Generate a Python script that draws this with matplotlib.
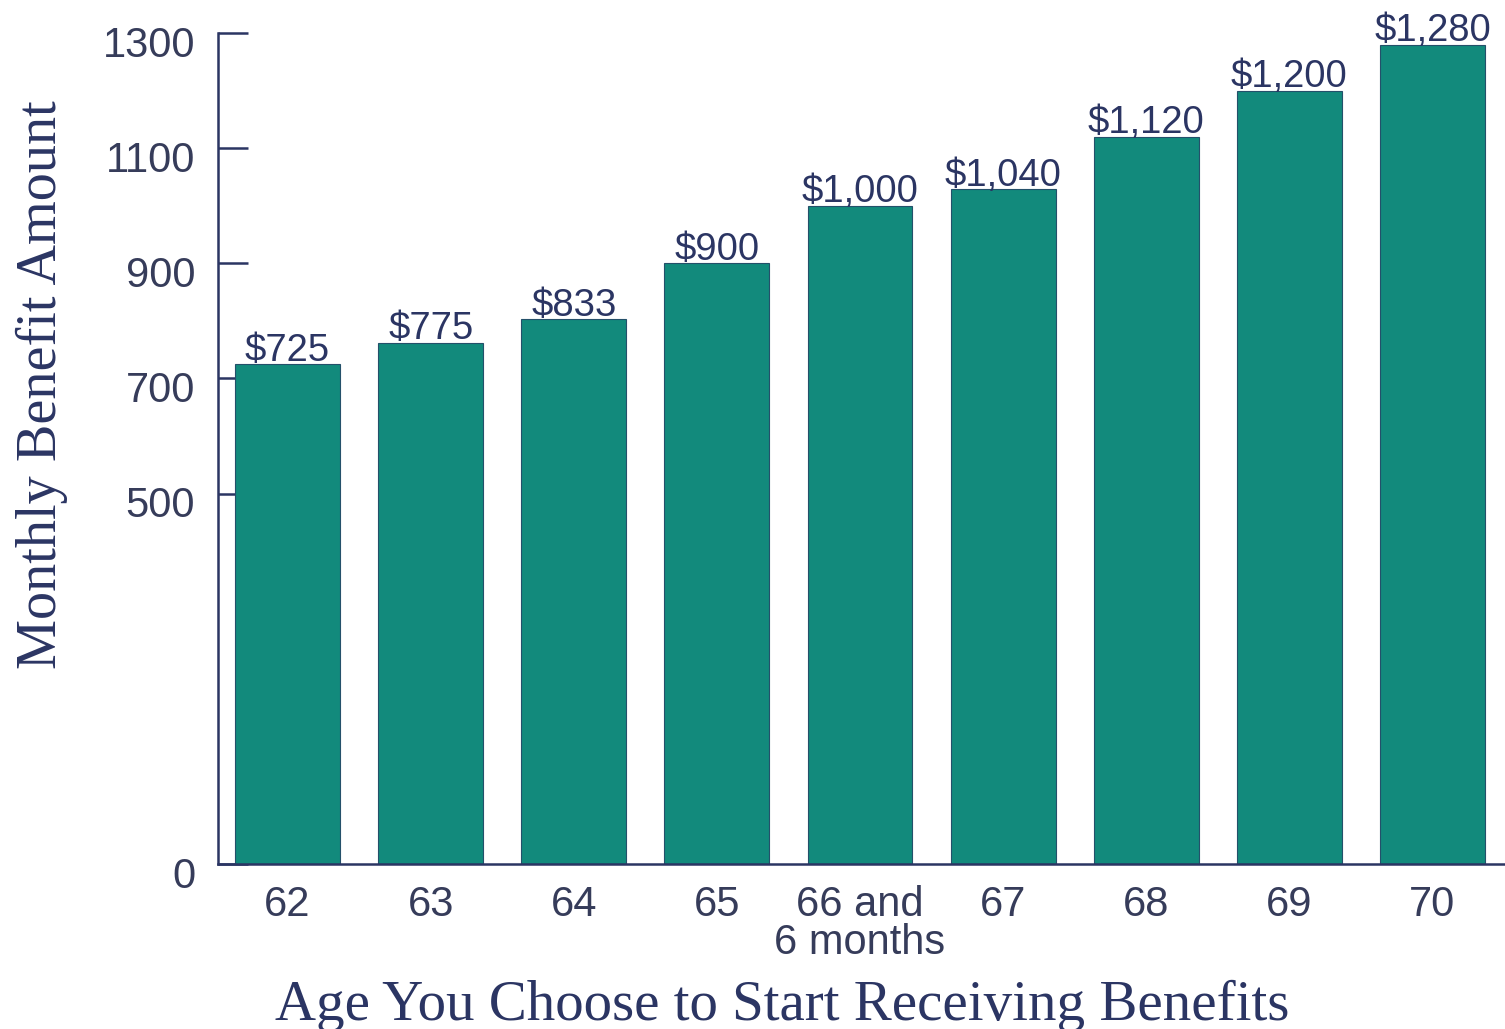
import numpy as np
import matplotlib
matplotlib.use("Agg")
import matplotlib.pyplot as plt
import matplotlib.transforms as mtransforms

# dados
ages = ['62', '63', '64', '65', '66 and\n6 months', '67', '68', '69', '70']
bar_heights = [725, 762, 803, 900, 1000, 1029, 1120, 1200, 1280]
value_labels = ['$725', '$775', '$833', '$900', '$1,000', '$1,040', '$1,120', '$1,200', '$1,280']
yticks = [0, 500, 700, 900, 1100, 1300]

teal = '#128a7c'
navy = '#2b3563'
gray = '#363c5a'

# escala quebrada: 0-500 comprimido, acima de 500 linear
k = 1.287
def fwd(y):
    y = np.asarray(y, dtype=float)
    return np.where(y <= 500, y*k, 500*k + (y - 500))

def inv(u):
    u = np.asarray(u, dtype=float)
    return np.where(u <= 500*k, u/k, u - 500*k + 500)

fig = plt.figure(figsize=(15.05, 10.29), dpi=100)
ax = fig.add_axes([0.1449, 0.1603, 0.8551, 0.8076])
ax.set_yscale('function', functions=(fwd, inv))

x = np.arange(len(ages))
ax.bar(x, bar_heights, width=0.733, color=teal, edgecolor='#24506a', linewidth=0.8, zorder=2)

for xi, h, lab in zip(x, bar_heights, value_labels):
    ax.annotate(lab, (xi, h), xytext=(0, 2.5), textcoords='offset points',
                ha='center', va='baseline', fontsize=27.5, color=navy,
                family='Liberation Sans')

ax.set_xlim(-0.486, 8.507)
ax.set_ylim(0, 1300)
ax.set_yticks(yticks)
ax.set_yticklabels([str(t) for t in yticks])
ax.set_xticks(x)
ax.set_xticklabels(ages, linespacing=0.95)

for s in ['top', 'right']:
    ax.spines[s].set_visible(False)
for s in ['left', 'bottom']:
    ax.spines[s].set_color(navy)
    ax.spines[s].set_linewidth(1.8)

ax.tick_params(axis='y', direction='in', length=21.6, width=1.8, color=navy,
               pad=16.5, labelsize=30, labelcolor=gray)
ax.tick_params(axis='x', length=0, pad=15, labelsize=30, labelcolor=gray)
for lab in ax.get_yticklabels() + ax.get_xticklabels():
    lab.set_family('Liberation Sans')

# rótulos do eixo y um pouco abaixo dos ticks
off = mtransforms.ScaledTranslation(0, -6/72, fig.dpi_scale_trans)
for lab in ax.get_yticklabels():
    lab.set_transform(lab.get_transform() + off)

fig.text(42/1505, 1 - 385/1029, 'Monthly Benefit Amount', rotation=90,
         ha='center', va='center', fontsize=40.5, color=navy, family='Liberation Serif')
fig.text(782/1505, 1 - 1020/1029, 'Age You Choose to Start Receiving Benefits',
         ha='center', va='baseline', fontsize=41, color=navy, family='Liberation Serif')

fig.savefig('out.png', dpi=100, facecolor='white')
